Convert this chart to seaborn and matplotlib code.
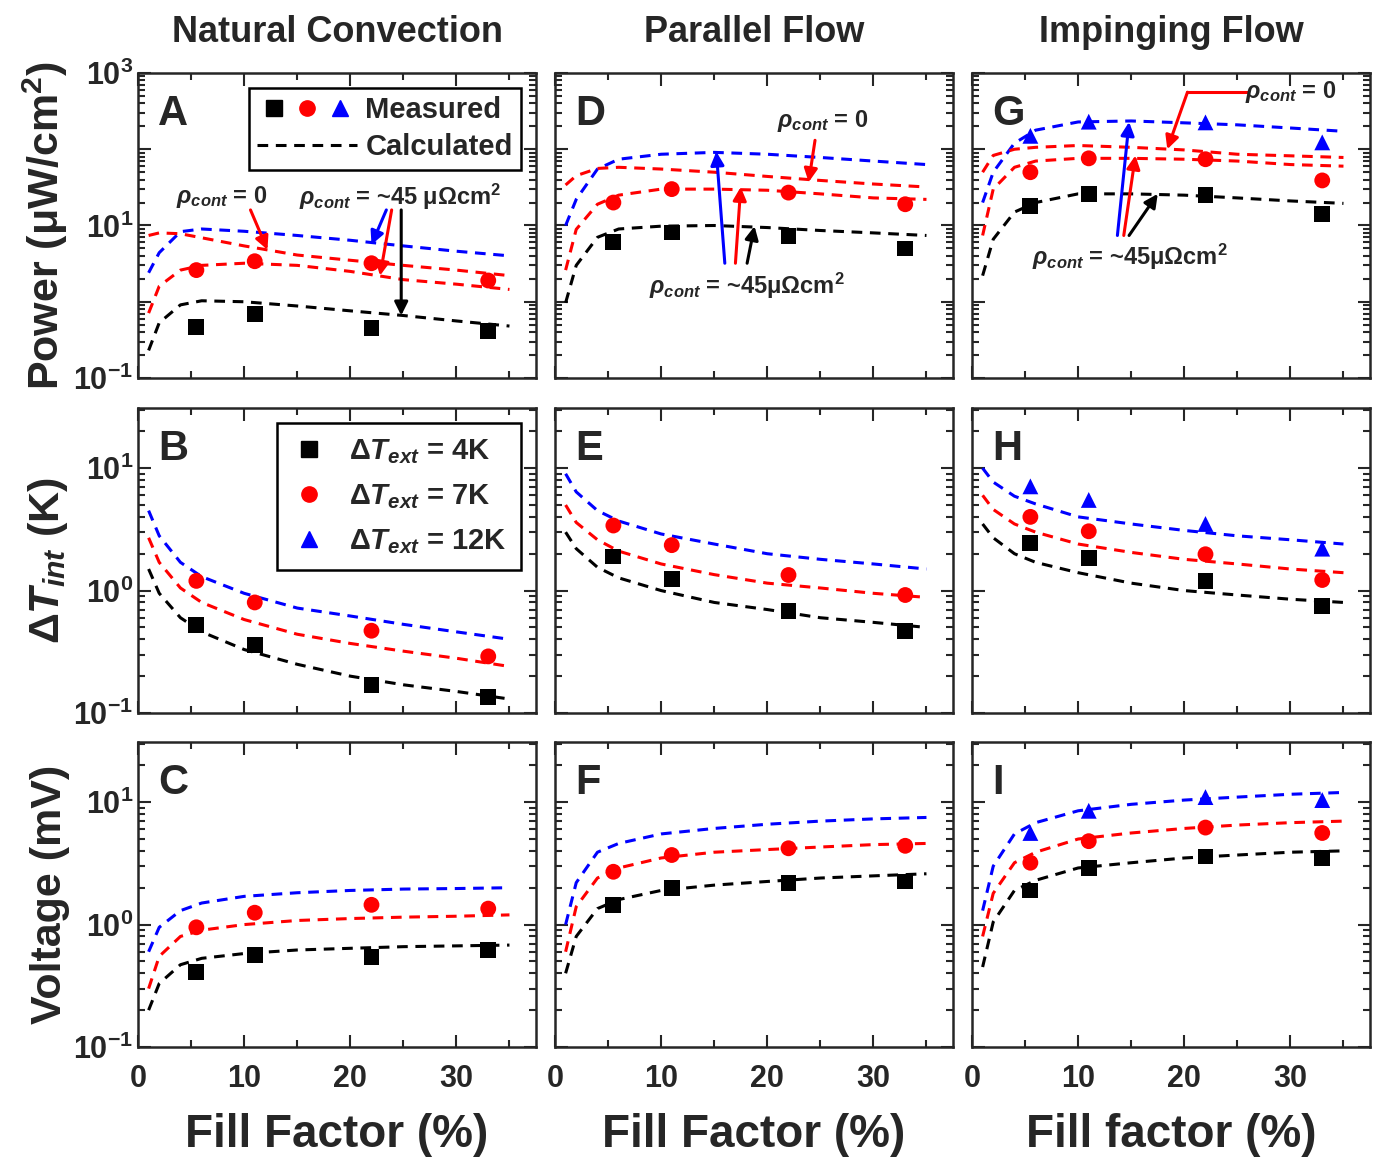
import numpy as np
import pandas as pd
import matplotlib
matplotlib.use("Agg")
import matplotlib.pyplot as plt
import seaborn as sns
from matplotlib.lines import Line2D
from matplotlib.legend_handler import HandlerTuple
from matplotlib.ticker import LogLocator, FixedLocator, NullFormatter, FuncFormatter

# ---- data ----
x_meas = [5.5, 11, 22, 33]
x_calc = [1, 2, 4, 6, 10, 15, 20, 25, 30, 35]

# Power (uW/cm2)
A_black = [0.47, 0.69, 0.45, 0.41]
A_red = [2.6, 3.4, 3.2, 1.9]
A_calc_blue = [2.4, 4.4, 8.3, 9.0, 8.4, 7.4, 6.4, 5.4, 4.6, 4.0]
A_calc_red0 = [7.4, 8.0, 7.8, 6.9, 5.4, 4.1, 3.5, 3.0, 2.6, 2.2]
A_calc_red45 = [0.71, 1.6, 2.6, 3.0, 3.2, 3.0, 2.5, 1.95, 1.7, 1.45]
A_calc_black = [0.23, 0.53, 0.91, 1.03, 1.0, 0.88, 0.76, 0.66, 0.56, 0.48]

D_black = [6.0, 8.1, 7.2, 5.0]
D_red = [20, 30, 27, 19]
D_calc_blue = [10, 22, 55, 74, 86, 91, 86, 78, 70, 63]
D_calc_red0 = [34, 45, 56, 58, 55, 50, 44, 39, 35, 32]
D_calc_red45 = [2.6, 8.9, 19, 25, 30, 30, 29, 26, 23, 22]
D_calc_black = [0.97, 3.0, 7.0, 9.0, 9.8, 10, 9.4, 8.6, 8.0, 7.4]

G_black = [18, 26, 25, 14]
G_red = [50, 76, 74, 39]
G_blue = [150, 230, 225, 123]
G_calc_blue = [20, 50, 120, 178, 228, 235, 222, 209, 190, 172]
G_calc_red0 = [50, 83, 100, 106, 112, 106, 98, 86, 82, 78]
G_calc_red45 = [7.4, 30, 58, 70, 76, 76, 74, 70, 63, 60]
G_calc_black = [2.2, 6.6, 15, 20, 26, 26, 25, 23, 21, 19.5]

# Delta T_int (K)
B_black = [0.52, 0.36, 0.17, 0.135]
B_red = [1.2, 0.8, 0.47, 0.29]
B_calc_blue = [4.5, 2.8, 1.7, 1.3, 0.95, 0.72, 0.62, 0.53, 0.46, 0.40]
B_calc_red = [2.7, 1.7, 1.05, 0.8, 0.58, 0.44, 0.37, 0.32, 0.28, 0.24]
B_calc_black = [1.5, 0.95, 0.6, 0.46, 0.33, 0.25, 0.2, 0.17, 0.15, 0.13]

E_black = [1.9, 1.24, 0.68, 0.47]
E_red = [3.4, 2.35, 1.34, 0.92]
E_calc_blue = [9, 6.4, 4.5, 3.7, 2.9, 2.4, 2.0, 1.8, 1.65, 1.5]
E_calc_red = [5, 3.6, 2.6, 2.1, 1.65, 1.35, 1.15, 1.05, 0.95, 0.88]
E_calc_black = [3.0, 2.2, 1.55, 1.27, 1.0, 0.8, 0.7, 0.6, 0.55, 0.5]

H_black = [2.45, 1.85, 1.2, 0.75]
H_red = [4.0, 3.05, 1.98, 1.22]
H_blue = [7.1, 5.5, 3.5, 2.2]
H_calc_blue = [10, 7.7, 5.9, 5.1, 4.0, 3.5, 3.1, 2.8, 2.6, 2.4]
H_calc_red = [6, 4.6, 3.5, 3.0, 2.4, 2.05, 1.8, 1.65, 1.5, 1.4]
H_calc_black = [3.5, 2.7, 2.0, 1.7, 1.4, 1.15, 1.0, 0.92, 0.85, 0.8]

# Voltage (mV)
C_black = [0.41, 0.56, 0.54, 0.62]
C_red = [0.95, 1.25, 1.45, 1.35]
C_calc_blue = [0.6, 0.95, 1.3, 1.5, 1.7, 1.82, 1.9, 1.95, 1.97, 2.0]
C_calc_red = [0.3, 0.55, 0.8, 0.9, 1.0, 1.08, 1.12, 1.15, 1.17, 1.2]
C_calc_black = [0.2, 0.33, 0.47, 0.53, 0.58, 0.62, 0.64, 0.66, 0.67, 0.68]

F_black = [1.45, 2.0, 2.2, 2.25]
F_red = [2.7, 3.7, 4.2, 4.4]
F_calc_blue = [1.0, 2.2, 3.9, 4.6, 5.5, 6.1, 6.6, 7.0, 7.3, 7.5]
F_calc_red = [0.6, 1.4, 2.4, 2.9, 3.5, 3.9, 4.1, 4.3, 4.5, 4.6]
F_calc_black = [0.4, 0.8, 1.35, 1.6, 1.9, 2.1, 2.25, 2.4, 2.5, 2.6]

I_black = [1.9, 2.9, 3.6, 3.5]
I_red = [3.2, 4.8, 6.2, 5.6]
I_blue = [5.6, 8.5, 11, 10.4]
I_calc_blue = [1.3, 3.0, 5.5, 6.8, 8.5, 9.6, 10.4, 11, 11.6, 12]
I_calc_red = [0.8, 1.8, 3.2, 3.9, 5.0, 5.6, 6.1, 6.5, 6.8, 7.0]
I_calc_black = [0.45, 1.05, 1.9, 2.3, 2.9, 3.2, 3.5, 3.7, 3.9, 4.0]

col_titles = ["Natural Convection", "Parallel Flow", "Impinging Flow"]
x_labels = ["Fill Factor (%)", "Fill Factor (%)", "Fill factor (%)"]
row_labels = ["Power (μW/cm$^2$)", r"$\mathit{\Delta T_{int}}$ (K)", "Voltage (mV)"]

sns.set_style("ticks")
plt.rcParams["font.family"] = ["Liberation Sans", "DejaVu Sans"]
plt.rcParams["font.weight"] = "bold"
plt.rcParams["mathtext.fontset"] = "custom"
plt.rcParams["mathtext.rm"] = "Liberation Sans:bold"
plt.rcParams["mathtext.bf"] = "Liberation Sans:bold"
plt.rcParams["mathtext.it"] = "Liberation Sans:bold:italic"

BLUE, RED, BLACK = "#0000ff", "#ff0000", "#000000"

fig = plt.figure(figsize=(13.86, 11.75), dpi=100)
lefts = [138 / 1386, 555 / 1386, 972 / 1386]
bottoms = [1 - 378 / 1175, 1 - 713 / 1175, 1 - 1047 / 1175]
W, H = 398 / 1386, 305 / 1175

panels = {
    "A": (0, 0, [(A_black, "s", BLACK), (A_red, "o", RED)],
          [(A_calc_blue, BLUE), (A_calc_red0, RED), (A_calc_red45, RED), (A_calc_black, BLACK)]),
    "D": (0, 1, [(D_black, "s", BLACK), (D_red, "o", RED)],
          [(D_calc_blue, BLUE), (D_calc_red0, RED), (D_calc_red45, RED), (D_calc_black, BLACK)]),
    "G": (0, 2, [(G_black, "s", BLACK), (G_red, "o", RED), (G_blue, "^", BLUE)],
          [(G_calc_blue, BLUE), (G_calc_red0, RED), (G_calc_red45, RED), (G_calc_black, BLACK)]),
    "B": (1, 0, [(B_black, "s", BLACK), (B_red, "o", RED)],
          [(B_calc_blue, BLUE), (B_calc_red, RED), (B_calc_black, BLACK)]),
    "E": (1, 1, [(E_black, "s", BLACK), (E_red, "o", RED)],
          [(E_calc_blue, BLUE), (E_calc_red, RED), (E_calc_black, BLACK)]),
    "H": (1, 2, [(H_black, "s", BLACK), (H_red, "o", RED), (H_blue, "^", BLUE)],
          [(H_calc_blue, BLUE), (H_calc_red, RED), (H_calc_black, BLACK)]),
    "C": (2, 0, [(C_black, "s", BLACK), (C_red, "o", RED)],
          [(C_calc_blue, BLUE), (C_calc_red, RED), (C_calc_black, BLACK)]),
    "F": (2, 1, [(F_black, "s", BLACK), (F_red, "o", RED)],
          [(F_calc_blue, BLUE), (F_calc_red, RED), (F_calc_black, BLACK)]),
    "I": (2, 2, [(I_black, "s", BLACK), (I_red, "o", RED), (I_blue, "^", BLUE)],
          [(I_calc_blue, BLUE), (I_calc_red, RED), (I_calc_black, BLACK)]),
}


def log_label(v, pos):
    return r"$\mathbf{10^{%d}}$" % int(round(np.log10(v)))


axes = {}
for name, (r, c, meas, calc) in panels.items():
    ax = fig.add_axes([lefts[c], bottoms[r], W, H])
    axes[name] = ax
    for vals, col in calc:
        sns.lineplot(x=x_calc, y=vals, ax=ax, color=col, linestyle=(0, (3.5, 2.5)), lw=2.2)
    for vals, mk, col in meas:
        sns.scatterplot(x=x_meas, y=vals, ax=ax, marker=mk, color=col, s=130, edgecolor="none", zorder=5)
    ax.set_yscale("log")
    ax.set_xlim(0, 37.5)
    if r == 0:
        ax.set_ylim(0.1, 1000)
        labeled = [0.1, 10, 1000]
    else:
        ax.set_ylim(0.1, 31)
        labeled = [0.1, 1, 10]
    ax.yaxis.set_major_locator(LogLocator(base=10, numticks=10))
    ax.yaxis.set_minor_locator(LogLocator(base=10, subs=np.arange(2, 10), numticks=20))
    ax.yaxis.set_minor_formatter(NullFormatter())
    if c == 0:
        ax.yaxis.set_major_formatter(FuncFormatter(
            lambda v, p, lab=labeled: log_label(v, p) if any(abs(v - l) / l < 1e-6 for l in lab) else ""))
    else:
        ax.yaxis.set_major_formatter(NullFormatter())
    ax.xaxis.set_major_locator(FixedLocator([0, 10, 20, 30]))
    ax.xaxis.set_minor_locator(FixedLocator([5, 15, 25, 35]))
    if r == 2:
        ax.set_xticklabels(["0", "10", "20", "30"])
        ax.set_xlabel(x_labels[c], fontsize=33, fontweight="bold", labelpad=14)
    else:
        ax.xaxis.set_major_formatter(NullFormatter())
    ax.tick_params(which="both", direction="in", top=True, right=True, width=1.5, labelsize=22)
    ax.tick_params(which="major", length=9)
    ax.tick_params(axis="x", which="major", pad=12)
    ax.tick_params(which="minor", length=5)
    for s in ax.spines.values():
        s.set_linewidth(1.8)
    if c == 0:
        ax.set_ylabel(row_labels[r], fontsize=31, fontweight="bold", labelpad=2)
    if r == 0:
        ax.set_title(col_titles[c], fontsize=26, fontweight="bold", pad=22)
    ax.text(0.05, 0.93, name, transform=ax.transAxes, fontsize=30, fontweight="bold", va="top", ha="left")

# legends
mk = dict(linestyle="none", markersize=11)
hA = [(Line2D([], [], marker="s", color=BLACK, **mk), Line2D([], [], marker="o", color=RED, **mk),
       Line2D([], [], marker="^", color=BLUE, **mk)),
      Line2D([], [], color=BLACK, linestyle=(0, (3.5, 2.5)), lw=2.2)]
legA = axes["A"].legend(hA, ["Measured", "Calculated"], handler_map={tuple: HandlerTuple(ndivide=None, pad=0.0)},
                        loc="upper right", bbox_to_anchor=(1.0, 1.0), fontsize=21, handlelength=3.4,
                        handletextpad=0.3, fancybox=False, edgecolor="black", framealpha=1,
                        borderpad=0.3, labelspacing=0.3)
legA.get_frame().set_linewidth(1.8)

hB = [Line2D([], [], marker="s", color=BLACK, **mk), Line2D([], [], marker="o", color=RED, **mk),
      Line2D([], [], marker="^", color=BLUE, **mk)]
legB = axes["B"].legend(hB, [r"$\Delta T_{ext}$ = 4K", r"$\Delta T_{ext}$ = 7K", r"$\Delta T_{ext}$ = 12K"],
                        loc="upper right", bbox_to_anchor=(1.0, 1.0), fontsize=21, handlelength=1.2,
                        fancybox=False, edgecolor="black", framealpha=1, borderpad=0.5, labelspacing=0.55)
legB.get_frame().set_linewidth(1.8)

rho0 = r"$\rho_{cont}$ = 0"
rho45 = r"$\rho_{cont}$ = ~45 μΩcm$^2$"
rho45b = r"$\rho_{cont}$ = ~45μΩcm$^2$"
arr = lambda col: dict(arrowstyle="-|>", color=col, lw=2.2, mutation_scale=20, shrinkA=0, shrinkB=0)

ax = axes["A"]
ax.text(7.9, 24, rho0, fontsize=17, ha="center", va="center")
ax.annotate("", xy=(12.2, 4.8), xytext=(10.6, 16), arrowprops=arr(RED))
ax.text(24.7, 24, rho45, fontsize=17, ha="center", va="center")
ax.annotate("", xy=(22.0, 5.6), xytext=(23.4, 16), arrowprops=arr(BLUE))
ax.annotate("", xy=(22.8, 2.2), xytext=(23.9, 16), arrowprops=arr(RED))
ax.annotate("", xy=(24.8, 0.66), xytext=(24.8, 16), arrowprops=arr(BLACK))

ax = axes["D"]
ax.text(25.2, 234, rho0, fontsize=17, ha="center", va="center")
ax.annotate("", xy=(23.9, 37), xytext=(24.5, 131), arrowprops=arr(RED))
ax.text(18.1, 1.6, rho45b, fontsize=17, ha="center", va="center")
ax.annotate("", xy=(15.2, 93), xytext=(16.0, 3.2), arrowprops=arr(BLUE))
ax.annotate("", xy=(17.5, 32), xytext=(17.0, 3.2), arrowprops=arr(RED))
ax.annotate("", xy=(18.8, 9.8), xytext=(18.1, 3.2), arrowprops=arr(BLACK))

ax = axes["G"]
ax.text(30, 560, rho0, fontsize=17, ha="center", va="center")
ax.plot([20.3, 26.0], [560, 560], color=RED, lw=2.2)
ax.annotate("", xy=(18.4, 100), xytext=(20.3, 560), arrowprops=arr(RED))
ax.text(14.9, 3.9, rho45b, fontsize=17, ha="center", va="center")
ax.annotate("", xy=(14.8, 228), xytext=(13.7, 7.4), arrowprops=arr(BLUE))
ax.annotate("", xy=(15.4, 83), xytext=(14.3, 7.4), arrowprops=arr(RED))
ax.annotate("", xy=(17.5, 26), xytext=(14.8, 7.4), arrowprops=arr(BLACK))

fig.savefig("out.png", dpi=100)
